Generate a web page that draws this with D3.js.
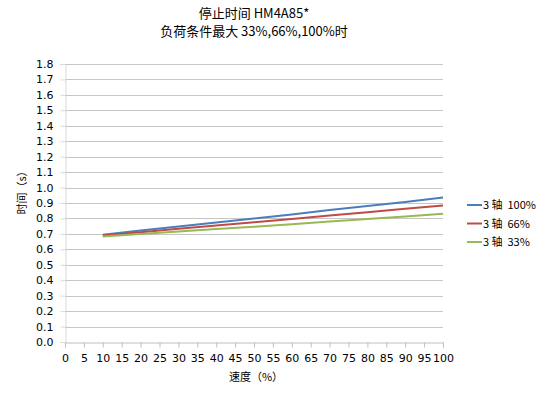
<!DOCTYPE html>
<html><head><meta charset="utf-8">
<script src="https://cdn.jsdelivr.net/npm/d3@7"></script>
<style>body{margin:0;background:#fff}svg{display:block}</style>
</head><body>
<svg id="c" width="550" height="396"></svg>
<script>
const titleLines = ["停止时间 HM4A85*", "负荷条件最大 33%,66%,100%时"];
const speeds = [10, 20, 30, 40, 50, 60, 70, 80, 90, 100];
const s100 = [0.695, 0.722, 0.748, 0.774, 0.800, 0.826, 0.854, 0.880, 0.907, 0.935];
const s66  = [0.690, 0.711, 0.733, 0.754, 0.776, 0.797, 0.819, 0.840, 0.862, 0.884];
const s33  = [0.683, 0.699, 0.715, 0.731, 0.747, 0.763, 0.780, 0.796, 0.813, 0.830];
const seriesNames = ["3 轴\u00A0\u00A0100%", "3 轴\u00A0\u00A066%", "3 轴\u00A0\u00A033%"];
const colors = ["#4a7ebb", "#be4b48", "#98b954"];
const xTicks = d3.range(0, 101, 5);
const yTicks = d3.range(0, 19).map(i => i / 10);

(function () {
const svg = d3.select("#c");
const pl = 65, pr = 443, pt = 64, pb = 342;
const x = d3.scaleLinear().domain([0, 100]).range([pl, pr]);
const y = d3.scaleLinear().domain([0, 1.8]).range([pb, pt]);

// title
svg.append("g").selectAll("text").data(titleLines).join("text")
  .attr("x", 254).attr("y", (d, i) => 18 + i * 18)
  .attr("text-anchor", "middle")
  .attr("font-family", "'Noto Sans CJK SC', sans-serif")
  .attr("font-size", 13).attr("fill", "#000").text(d => d);

// gridlines
svg.append("g").selectAll("line").data(yTicks.slice(1)).join("line")
  .attr("x1", pl).attr("x2", pr)
  .attr("y1", d => Math.round(y(d)) + 0.5).attr("y2", d => Math.round(y(d)) + 0.5)
  .attr("stroke", "#c6c6c6").attr("stroke-width", 1);

// y axis
const yAxis = d3.axisLeft(y).tickValues(yTicks).tickFormat(d3.format(".1f")).tickSize(5).tickPadding(7);
const gy = svg.append("g").attr("transform", `translate(${pl + 0.5},0)`).call(yAxis);
gy.select(".domain").attr("stroke", "#d9d9d9");
gy.selectAll(".tick line").attr("stroke", "#d9d9d9");
gy.selectAll("text").attr("font-family", "'DejaVu Sans', Verdana, sans-serif").attr("font-size", 11).attr("fill", "#000");

// x axis
const xAxis = d3.axisBottom(x).tickValues(xTicks).tickFormat(d3.format("d")).tickSize(5).tickPadding(7);
const gx = svg.append("g").attr("transform", `translate(0,${pb + 0.5})`).call(xAxis);
gx.select(".domain").attr("stroke", "#bfbfbf");
gx.selectAll(".tick line").attr("stroke", "#bfbfbf");
gx.selectAll("text").attr("font-family", "'DejaVu Sans', Verdana, sans-serif").attr("font-size", 11).attr("fill", "#000");

// axis titles
svg.append("text").attr("transform", "translate(26,190) rotate(-90)")
  .attr("text-anchor", "middle")
  .attr("font-family", "'Noto Sans CJK SC', sans-serif").attr("font-size", 11)
  .text("时间（s）");
svg.append("text").attr("x", 256).attr("y", 381).attr("text-anchor", "middle")
  .attr("font-family", "'Noto Sans CJK SC', sans-serif").attr("font-size", 11)
  .text("速度（%）");

// lines
const series = [s100, s66, s33];
const line = d3.line().x((d, i) => x(speeds[i])).y(d => y(d));
svg.append("g").selectAll("path").data(series).join("path")
  .attr("d", d => line(d)).attr("fill", "none")
  .attr("stroke", (d, i) => colors[i]).attr("stroke-width", 2);

// legend
const lg = svg.append("g").selectAll("g").data(seriesNames).join("g")
  .attr("transform", (d, i) => `translate(467,${205 + i * 18.5})`);
lg.append("line").attr("x1", 0).attr("x2", 15).attr("y1", 0).attr("y2", 0)
  .attr("stroke", (d, i) => colors[i]).attr("stroke-width", 2);
lg.append("text").attr("x", 16).attr("y", 4)
  .attr("font-family", "'Noto Sans CJK SC', sans-serif").attr("font-size", 11)
  .text(d => d);
})();
</script>
</body></html>
